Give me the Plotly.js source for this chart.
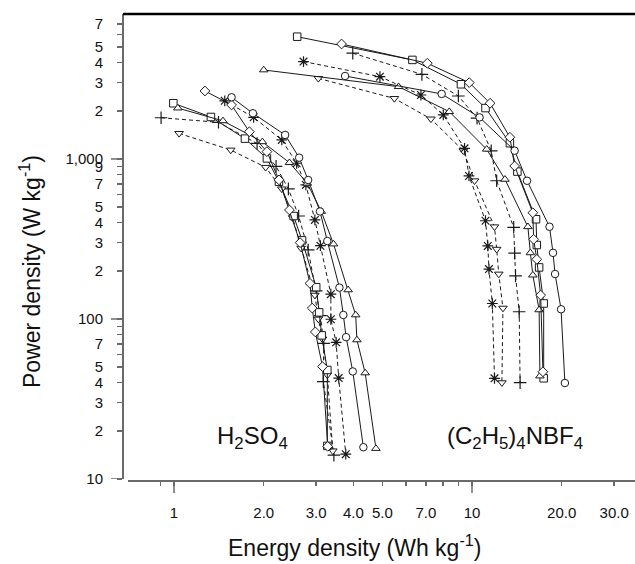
<!DOCTYPE html>
<html><head><meta charset="utf-8">
<script src="https://cdn.plot.ly/plotly-3.0.1.min.js"></script>
<style>body{margin:0;background:#fff}#chart{width:635px;height:564px}</style>
</head><body><div id="chart"></div>
<script>
// ---------- data (Energy density Wh/kg, Power density W/kg) ----------
// H2SO4 electrolyte
const h_circle_x  = [1.56,1.84,2.36,2.63,2.82,3.09,3.27,3.59,3.70,3.78,3.98,4.32];
const h_circle_y  = [2430,1930,1413,1019,739,470,307,157,106,77,47,15.8];
const h_triup_x   = [1.03,1.46,1.98,2.44,2.80,3.12,3.43,3.84,4.07,4.11,4.38,4.76];
const h_triup_y   = [2080,1730,1280,948,705,470,294,152,106,74,46,15.5];
const h_star_x    = [1.48,1.85,2.30,2.58,2.77,2.97,3.10,3.36,3.36,3.50,3.57,3.77];
const h_star_y    = [2310,1820,1315,940,688,416,287,143,99.6,71.5,42.7,14.3];
const h_diamond_x = [1.27,1.56,1.79,2.05,2.25,2.44,2.65,2.86,2.91,2.98,3.15,3.28];
const h_diamond_y = [2660,2176,1480,1111,740,480,300,167,117,83,50.4,16];
const h_square_x  = [0.995,1.33,1.73,2.05,2.25,2.52,2.69,3.0,3.07,3.13,3.27,3.27];
const h_square_y  = [2230,1830,1340,1008,720,440,310,158,110,79,48,16.1];
const h_plus_x    = [0.905,1.41,1.9,2.2,2.42,2.62,2.82,3.0,3.1,3.18,3.17,3.44];
const h_plus_y    = [1810,1695,1250,900,650,440,270,150,105,70.5,40.6,14.1];
const h_tridown_x = [1.04,1.55,2.03,2.3,2.5,2.67,2.97,3.05,3.15,3.27,3.41];
const h_tridown_y = [1445,1138,887,650,430,277,141,100,75,44.7,15.0];
// (C2H5)4NBF4 electrolyte
const t_square_x  = [2.59,6.31,9.18,11.1,13.4,14.2,16.4,16.5,16.8,17.4,17.4];
const t_square_y  = [5810,4160,2930,2080,1254,834,420,290,210,125,42.6];
const t_diamond_x = [3.65,7.08,9.79,11.5,13.4,13.9,16.0,16.1,16.5,17.0,17.3];
const t_diamond_y = [5230,3965,3000,2230,1367,904,461,315,236,141,46.8];
const t_plus_x    = [3.98,6.79,9.0,10.4,11.6,12.1,13.8,13.9,14.0,14.4,14.5];
const t_plus_y    = [4580,3380,2475,1800,1125,731,374,258,186,111,40];
const t_star_x    = [2.72,4.91,6.74,8.01,9.44,9.77,11.1,11.3,11.4,11.7,11.9];
const t_star_y    = [4060,3270,2510,1884,1166,783,411,286,205,125,42.6];
const t_tridown_x = [3.05,5.49,7.28,9.35,10.2,11.9,12.1,12.3,12.7,12.6];
const t_tridown_y = [3190,2390,1780,1125,731,377,273,191,117,40];
const t_triup_x   = [2.0,5.67,8.39,11.2,12.9,15.4,15.7,16.0,16.8,16.9];
const t_triup_y   = [3600,2830,1976,1150,746,377,259,188,114,44];
const t_circle_x  = [3.75,7.91,10.6,13.9,15.3,18.2,18.7,19.0,19.9,20.5];
const t_circle_y  = [3300,2550,1820,1127,731,377,259,191,115,39.8];

// ---------- ticks ----------
const xTickVals = [1,2,3,4,5,7,10,20,30];
const xTickText = ["1","2.0","3.0","4.0","5.0","7.0","10","20.0","30.0"];
const xMinorVals = [0.9,6,8,9];
const xMajor = [1,10];
const yTickVals = [10,20,30,40,50,70,100,200,300,400,500,700,900,1000,2000,3000,4000,5000,7000];
const yTickText = ["10","2","3","4","5","7","100","2","3","4","5","7","9","1,000","2","3","4","5","7"];
const yMinorVals = [60,80,90,600,800,6000];
const yMajor = [10,100,1000];

const INK = '#1a1a1a';
function series(x, y, symbol, dashed) {
  const open = symbol.indexOf('open') >= 0;
  return {
    x: x, y: y, type: 'scatter', mode: 'lines+markers',
    line: {color: INK, width: 1, dash: dashed ? '4px,3px' : 'solid'},
    marker: open
      ? {symbol: symbol, size: 9, color: INK, line: {color: INK, width: 1.2}}
      : {symbol: symbol, size: 7.5, color: '#fff', line: {color: INK, width: 1}},
    showlegend: false, hoverinfo: 'x+y'
  };
}

const data = [
  series(h_plus_x, h_plus_y, 'cross-thin-open', true),
  series(h_tridown_x, h_tridown_y, 'triangle-down', true),
  series(h_star_x, h_star_y, 'asterisk-open', true),
  series(h_square_x, h_square_y, 'square', false),
  series(h_triup_x, h_triup_y, 'triangle-up', false),
  series(h_diamond_x, h_diamond_y, 'diamond', false),
  series(h_circle_x, h_circle_y, 'circle', false),
  series(t_plus_x, t_plus_y, 'cross-thin-open', true),
  series(t_tridown_x, t_tridown_y, 'triangle-down', true),
  series(t_star_x, t_star_y, 'asterisk-open', true),
  series(t_square_x, t_square_y, 'square', false),
  series(t_triup_x, t_triup_y, 'triangle-up', false),
  series(t_diamond_x, t_diamond_y, 'diamond', false),
  series(t_circle_x, t_circle_y, 'circle', false)
];

const AX = '#6a6a6a';
const W = 512, H = 467;
const shapes = [];
yMajor.forEach(v => shapes.push({type:'line', xref:'paper', yref:'y', x0:-12/W, x1:0, y0:v, y1:v, line:{color:AX, width:1.5}}));
xMajor.forEach(v => shapes.push({type:'line', xref:'x', yref:'paper', x0:v, x1:v, y0:0, y1:-12/H, line:{color:AX, width:1.5}}));
shapes.push({type:'line', xref:'paper', yref:'paper', x0:0, x1:1, y0:1, y1:1, line:{color:'#000', width:2.5}});

const FONT = 'Arial, "Liberation Sans", sans-serif';
const layout = {
  width: 635, height: 564,
  margin: {l: 123, r: 0, t: 14, b: 83, pad: 0},
  paper_bgcolor: '#fff', plot_bgcolor: '#fff',
  font: {family: FONT, color: '#111', size: 15},
  showlegend: false,
  xaxis: {
    type: 'log', range: [-0.1544, 1.547], domain: [5/W, 1],
    anchor: 'free', position: 0, automargin: false,
    tickmode: 'array', tickvals: xTickVals, ticktext: xTickText,
    ticks: 'outside', ticklen: 4, tickwidth: 1.5, tickcolor: AX,
    minor: {tickmode: 'array', tickvals: xMinorVals, ticks: 'outside', ticklen: 4, tickwidth: 1.5, tickcolor: AX, showgrid: false},
    ticklabelstandoff: 14,
    showline: true, linecolor: AX, linewidth: 2, showgrid: false, zeroline: false,
    tickfont: {family: FONT, size: 15, color: '#111'}
  },
  yaxis: {
    type: 'log', range: [1, 3.906], domain: [2/H, 1],
    anchor: 'free', position: 0, automargin: false,
    tickmode: 'array', tickvals: yTickVals, ticktext: yTickText,
    ticks: 'outside', ticklen: 5, tickwidth: 1.5, tickcolor: AX,
    minor: {tickmode: 'array', tickvals: yMinorVals, ticks: 'outside', ticklen: 5, tickwidth: 1.5, tickcolor: AX, showgrid: false},
    ticklabelstandoff: 11,
    showline: true, linecolor: AX, linewidth: 2, showgrid: false, zeroline: false,
    tickfont: {family: FONT, size: 15, color: '#111'}
  },
  shapes: shapes,
  annotations: [
    {text: 'H<sub>2</sub>SO<sub>4</sub>', xref:'paper', yref:'paper', x:(252-123)/W, y:(481-437)/H,
     showarrow:false, xanchor:'center', yanchor:'middle', font:{family:FONT, size:24, color:'#111'}},
    {text: '(C<sub>2</sub>H<sub>5</sub>)<sub>4</sub>NBF<sub>4</sub>', xref:'paper', yref:'paper', x:(515-123)/W, y:(481-437)/H,
     showarrow:false, xanchor:'center', yanchor:'middle', font:{family:FONT, size:24, color:'#111'}},
    {text: 'Energy density (Wh kg<sup>-1</sup>)', xref:'paper', yref:'paper', x:(354-123)/W, y:(481-546)/H,
     showarrow:false, xanchor:'center', yanchor:'middle', font:{family:FONT, size:23, color:'#111'}},
    {text: 'Power density (W kg<sup>-1</sup>)', xref:'paper', yref:'paper', x:(30-123)/W, y:(481-272)/H,
     textangle:-90, showarrow:false, xanchor:'center', yanchor:'middle', font:{family:FONT, size:23, color:'#111'}}
  ]
};

Plotly.newPlot('chart', data, layout, {displayModeBar: false, staticPlot: true});
</script></body></html>
